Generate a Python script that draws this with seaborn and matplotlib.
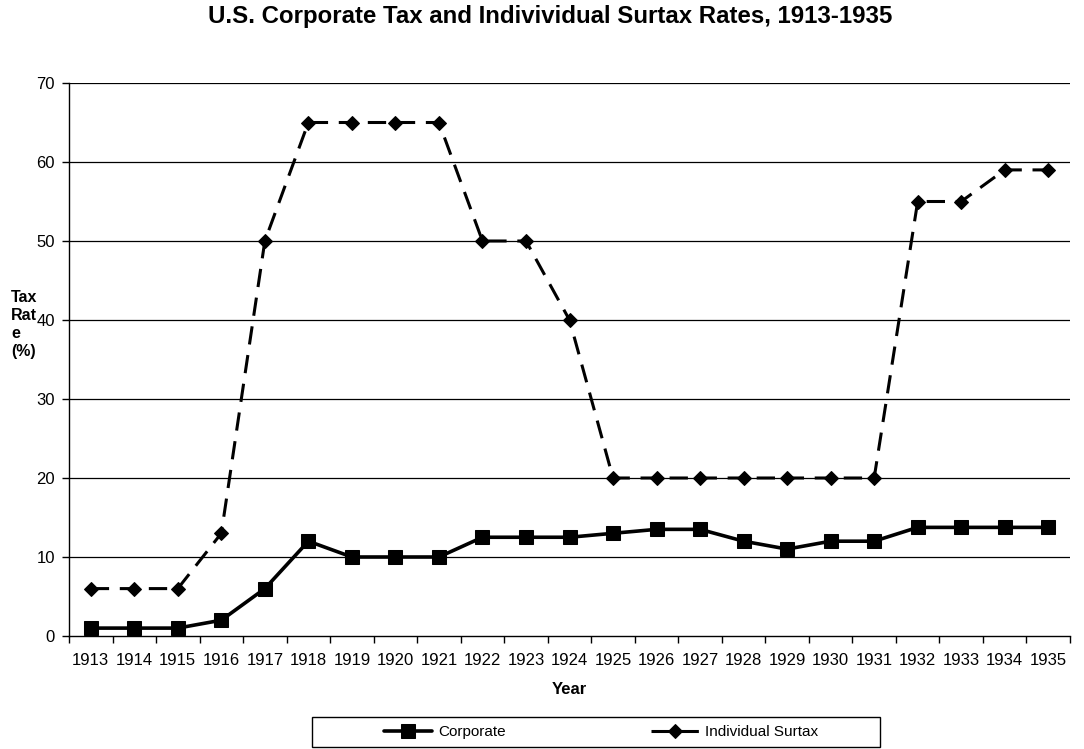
import numpy as np
import pandas as pd
import matplotlib
matplotlib.use('Agg')
import matplotlib.pyplot as plt
from matplotlib.patches import Rectangle
import seaborn as sns

years = list(range(1913, 1936))
corporate = [1, 1, 1, 2, 6, 12, 10, 10, 10, 12.5, 12.5, 12.5, 13, 13.5, 13.5,
             12, 11, 12, 12, 13.75, 13.75, 13.75, 13.75]
surtax = [6, 6, 6, 13, 50, 65, 65, 65, 65, 50, 50, 40, 20, 20, 20,
          20, 20, 20, 20, 55, 55, 59, 59]
yticks = [0, 10, 20, 30, 40, 50, 60, 70]

sns.set_style('white', {'text.color': 'black', 'axes.labelcolor': 'black',
                        'xtick.color': 'black', 'ytick.color': 'black'})
plt.rcParams['font.family'] = ['Liberation Sans', 'DejaVu Sans']

df = pd.DataFrame({'idx': np.arange(len(years)), 'Corporate': corporate,
                   'Individual Surtax': surtax})

W, H = 1084, 749
fig = plt.figure(figsize=(W / 100, H / 100), dpi=100)
ax = fig.add_axes([69 / W, 1 - 636 / H, 1001 / W, 553 / H])

for y in yticks[1:]:
    ax.axhline(y, color='black', lw=0.9, zorder=0)

sns.lineplot(data=df, x='idx', y='Corporate', ax=ax, color='black', lw=2.6,
             marker='s', markersize=10, markeredgecolor='black',
             label='Corporate')
sns.lineplot(data=df, x='idx', y='Individual Surtax', ax=ax, color='black',
             lw=2.2, marker='D', markersize=7, markeredgecolor='black',
             label='Individual Surtax')
ax.lines[-1].set_dashes((6, 3.5))

ax.set_xlim(-0.5, len(years) - 0.5)
ax.set_ylim(0, 70)
ax.set_xticks(np.arange(-0.5, len(years)), labels=[''] * (len(years) + 1))
ax.set_xticks(np.arange(len(years)), labels=[str(y) for y in years], minor=True)
ax.tick_params(axis='x', which='major', length=5, direction='out', width=1,
               bottom=True, color='black')
ax.tick_params(axis='x', which='minor', length=0, labelsize=12, pad=12)
ax.set_yticks(yticks)
ax.tick_params(axis='y', length=5, direction='out', left=True, labelsize=12,
               color='black', width=1, pad=5)
for s in ['top', 'right']:
    ax.spines[s].set_visible(False)
for s in ['left', 'bottom']:
    ax.spines[s].set_color('black')
    ax.spines[s].set_linewidth(1)

ax.set_xlabel('Year', fontsize=12, fontweight='bold', labelpad=10)
ax.set_ylabel('')
fig.text(11 / W, 1 - 290 / H, 'Tax\nRat\ne\n(%)', fontsize=11.5,
         fontweight='bold', va='top', ha='left', linespacing=1.25)
fig.text(550 / W, 1 - 17 / H,
         'U.S. Corporate Tax and Indivividual Surtax Rates, 1913-1935',
         fontsize=17.3, fontweight='bold', ha='center', va='center')

leg = ax.legend(loc='center left', bbox_to_anchor=(384 / W, 1 - 732 / H),
                bbox_transform=fig.transFigure, ncol=2, frameon=False,
                fontsize=11, handlelength=3.15, columnspacing=9.5,
                borderpad=0, borderaxespad=0, handletextpad=0.4)
fig.patches.append(Rectangle((312 / W, 1 - 747 / H), 568 / W, 30 / H,
                             transform=fig.transFigure, fill=False,
                             edgecolor='black', lw=1))

fig.savefig('out.png', dpi=100)
